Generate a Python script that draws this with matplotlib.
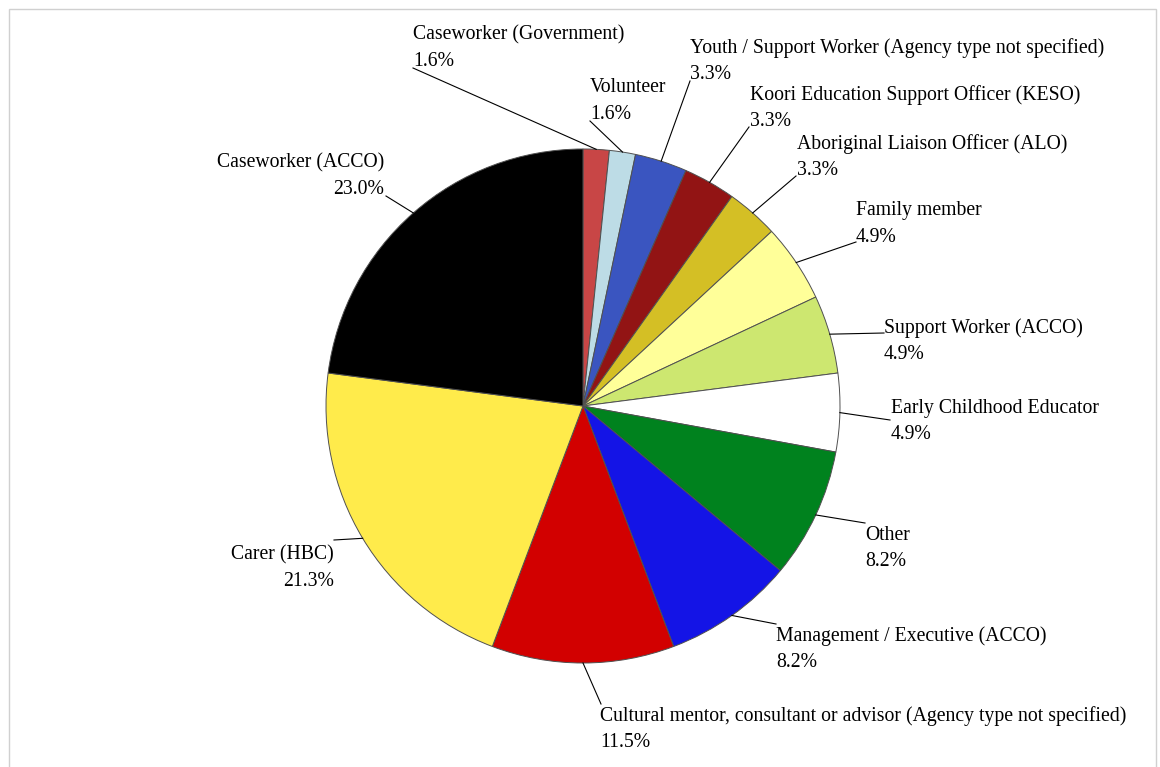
import matplotlib.pyplot as plt
from matplotlib.patches import Rectangle
import numpy as np

plt.rcParams['font.family'] = ['Liberation Serif', 'DejaVu Serif']

# chart data (counts, 61 respondents)
labels = ['Caseworker (Government)', 'Volunteer',
          'Youth / Support Worker (Agency type not specified)',
          'Koori Education Support Officer (KESO)',
          'Aboriginal Liaison Officer (ALO)', 'Family member',
          'Support Worker (ACCO)', 'Early Childhood Educator', 'Other',
          'Management / Executive (ACCO)',
          'Cultural mentor, consultant or advisor (Agency type not specified)',
          'Carer (HBC)', 'Caseworker (ACCO)']
counts = [1, 1, 2, 2, 2, 3, 3, 3, 5, 5, 7, 13, 14]
colors = ['#C84646', '#BDDCE6', '#3A55C0', '#921414', '#D4BF25', '#FFFF99',
          '#CDE770', '#FFFFFF', '#00821E', '#1414E6', '#D20000', '#FFEB4B',
          '#000000']

# label layout in pixels: text x, first line y, alignment, leader start
label_pos = [(413, 33, 'left', 413, 68), (590, 86, 'left', 590, 121),
             (690, 46, 'left', 690, 81), (750, 93, 'left', 749, 127),
             (797, 142, 'left', 796, 176), (856, 209, 'left', 856, 242),
             (884, 326, 'left', 884, 333), (891, 406, 'left', 890, 420),
             (865, 533, 'left', 865, 523), (776, 634, 'left', 776, 624),
             (600, 714, 'left', 601, 704), (334, 553, 'right', 334, 540),
             (384, 161, 'right', 386, 196)]

W, H = 1160, 767
cx, cy, R = 583, 406, 257


def px(x, y):
    return (x - cx) / R, (cy - y) / R


fig = plt.figure(figsize=(W / 100, H / 100), dpi=100)
ax = fig.add_axes([0, 0, 1, 1])

fig.patches.append(Rectangle((9 / W, -0.01), (1156 - 9) / W, 1 - 9 / H + 0.01,
                             transform=fig.transFigure, fill=False,
                             edgecolor='#D0D0D0', linewidth=1))

wedges, _ = ax.pie(counts, colors=colors, startangle=90, counterclock=False,
                   radius=1, center=(0, 0), frame=True,
                   wedgeprops=dict(edgecolor='#505050', linewidth=0.7))
ax.set_xlim(-cx / R, (W - cx) / R)
ax.set_ylim(-(H - cy) / R, cy / R)
ax.axis('off')

total = sum(counts)
cum = np.cumsum(counts) - np.array(counts) / 2
for lab, n, mid, (tx, ty, ha, lx, ly) in zip(labels, counts, cum, label_pos):
    theta = np.deg2rad(90 - 360 * mid / total)
    ex, ey = np.cos(theta), np.sin(theta)
    sx, sy = px(lx, ly)
    ax.plot([sx, ex], [sy, ey], color='black', linewidth=0.8)
    x1, y1 = px(tx, ty + 2)
    x2, y2 = px(tx, ty + 28.5)
    ax.text(x1, y1, lab, ha=ha, va='center', fontsize=14.2)
    ax.text(x2, y2, f'{n / total * 100:.1f}%', ha=ha, va='center', fontsize=14.2)

fig.savefig('out.png', dpi=100)
